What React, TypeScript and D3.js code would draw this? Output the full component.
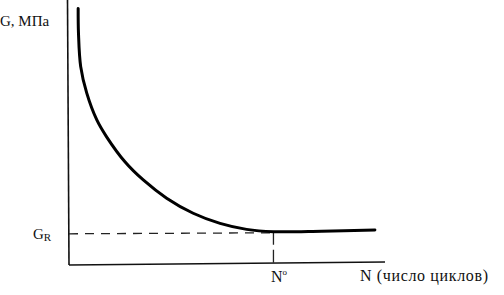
import React from "react";
import * as d3 from "d3";

// Curve data (relative units): N cycles vs G stress
const nValues = [2.9, 3.0, 3.7, 5.6, 8.8, 11.9, 17.7, 23.5, 30.9, 39.3, 47.8, 56.2, 64.7, 80, 96.8];
const gValues = [98.7, 89.2, 76.3, 66.2, 55.8, 49.3, 39.7, 32.7, 25.7, 19.9, 16.0, 13.7, 12.8, 13.0, 13.5];
const gR = 12;
const n0 = 64.7;
const yAxisLabel = "G, МПа";
const xAxisLabel = "N (число циклов)";

const W = 504;
const H = 295;

export default function App() {
  const x = d3.scaleLinear().domain([0, 100]).range([69, 385]);
  const y = d3.scaleLinear().domain([0, 100]).range([265, 5]);
  const pts: [number, number][] = nValues.map((n, i) => [n, gValues[i]]);
  const line = d3
    .line<[number, number]>()
    .x((d) => x(d[0]))
    .y((d) => y(d[1]))
    .curve(d3.curveCatmullRom.alpha(0.5));
  const font = "'Liberation Serif', serif";
  const gAtN0 = gValues[nValues.indexOf(n0)];
  return (
    <svg
      width={W}
      height={H}
      style={{ position: "absolute", left: 0, top: 0, background: "#fff" }}
    >
      {/* axes */}
      <line x1={x(0) - 1.5} y1={0} x2={x(0)} y2={y(0)} stroke="#111" strokeWidth={1.6} />
      <line x1={x(0)} y1={y(0)} x2={385} y2={y(0) - 3} stroke="#111" strokeWidth={1.6} />
      {/* G_R dashed */}
      <line
        x1={x(0)}
        y1={y(gR)}
        x2={x(n0)}
        y2={y(gR) - 1}
        stroke="#222"
        strokeWidth={1.3}
        strokeDasharray="9,7"
      />
      {/* N0 vertical */}
      <line
        x1={x(n0)}
        y1={y(gAtN0)}
        x2={x(n0)}
        y2={y(0) - 2}
        stroke="#222"
        strokeWidth={1.3}
        strokeDasharray="13,5"
      />
      {/* curve */}
      <path d={line(pts) || ""} fill="none" stroke="#000" strokeWidth={3} strokeLinecap="round" />
      {/* labels */}
      <text x={0} y={26} fontFamily={font} fontSize={15} fill="#111">
        {yAxisLabel}
      </text>
      <text x={33} y={239} fontFamily={font} fontSize={15} fill="#111">
        G<tspan fontSize={11} dy={2}>R</tspan>
      </text>
      <text x={271} y={282} fontFamily={font} fontSize={16} fill="#111">
        N<tspan fontSize={9} dy={-7}>o</tspan>
      </text>
      <text x={360} y={281} fontFamily={font} fontSize={16} fill="#111" textLength={128} lengthAdjust="spacing">
        {xAxisLabel}
      </text>
    </svg>
  );
}
